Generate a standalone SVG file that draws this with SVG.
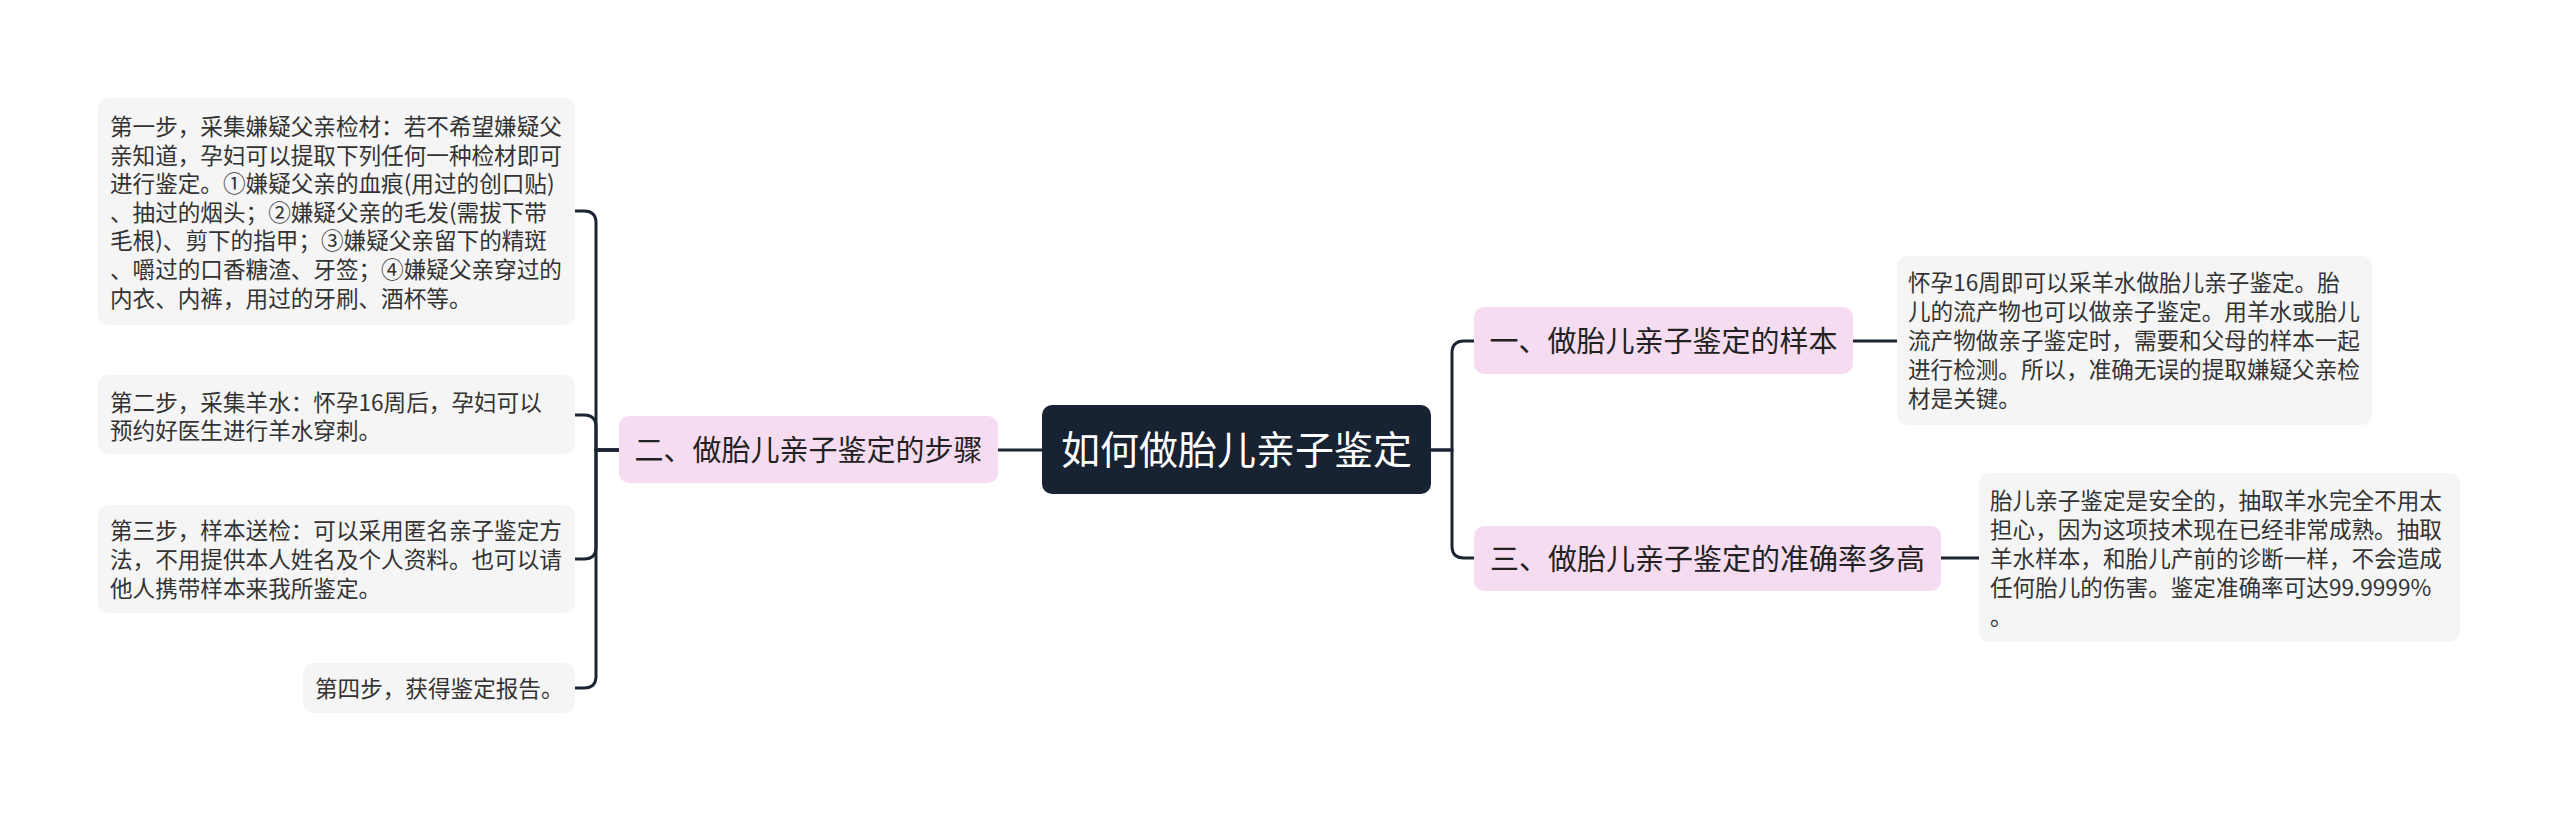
<svg xmlns="http://www.w3.org/2000/svg" width="2560" height="813" viewBox="0 0 2560 813">
<style>
.bg{fill:#ffffff}
.conn{fill:none;stroke:#1b2433;stroke-width:3;stroke-linecap:round}
.root{fill:#172233}
.topic{fill:#f6dcf0}
.note{fill:#f5f5f5}
.rt{font-family:"Noto Sans CJK SC","Noto Sans",sans-serif;font-size:39px;fill:#ffffff}
.tt{font-family:"Noto Sans CJK SC","Noto Sans",sans-serif;font-size:29px;fill:#222222}
.nt{font-family:"Noto Sans CJK SC","Noto Sans",sans-serif;font-size:22.6px;fill:#333333}
</style>
<rect class="bg" x="0" y="0" width="2560" height="813"/>
<g id="connectors">
<path class="conn" d="M619 450 H596 V223 Q596 211 584 211 H575"/>
<path class="conn" d="M619 450 H596 V427 Q596 415 584 415 H575"/>
<path class="conn" d="M619 450 H596 V547 Q596 559 584 559 H575"/>
<path class="conn" d="M619 450 H596 V676 Q596 688 584 688 H575"/>
<path class="conn" d="M998 450 H1042"/>
<path class="conn" d="M1431 450 H1452 V353 Q1452 341 1464 341 H1474"/>
<path class="conn" d="M1431 450 H1452 V546 Q1452 558 1464 558 H1474"/>
<path class="conn" d="M1853 341 H1897"/>
<path class="conn" d="M1941 558 H1979"/>
</g>
<g id="root">
<rect class="root" x="1042" y="405" width="389" height="89" rx="10"/>
<text class="rt" x="1236.5" y="464" text-anchor="middle">如何做胎儿亲子鉴定</text>
</g>
<g id="topic-steps">
<rect class="topic" x="619" y="416" width="379" height="67" rx="10"/>
<text class="tt" x="808.5" y="461" text-anchor="middle">二、做胎儿亲子鉴定的步骤</text>
</g>
<g id="topic-sample">
<rect class="topic" x="1474" y="307" width="379" height="67" rx="10"/>
<text class="tt" x="1663.5" y="352" text-anchor="middle">一、做胎儿亲子鉴定的样本</text>
</g>
<g id="topic-accuracy">
<rect class="topic" x="1474" y="526" width="467" height="65" rx="10"/>
<text class="tt" x="1707.5" y="570" text-anchor="middle">三、做胎儿亲子鉴定的准确率多高</text>
</g>
<g id="step1">
<rect class="note" x="98" y="98" width="477" height="227" rx="10"/>
<text class="nt" x="110" y="135">第一步，采集嫌疑父亲检材：若不希望嫌疑父</text>
<text class="nt" x="110" y="164">亲知道，孕妇可以提取下列任何一种检材即可</text>
<text class="nt" x="110" y="192">进行鉴定。①嫌疑父亲的血痕(用过的创口贴)</text>
<text class="nt" x="110" y="221">、抽过的烟头；②嫌疑父亲的毛发(需拔下带</text>
<text class="nt" x="110" y="249">毛根)、剪下的指甲；③嫌疑父亲留下的精斑</text>
<text class="nt" x="110" y="278">、嚼过的口香糖渣、牙签；④嫌疑父亲穿过的</text>
<text class="nt" x="110" y="307">内衣、内裤，用过的牙刷、酒杯等。</text>
</g>
<g id="step2">
<rect class="note" x="98" y="375" width="477" height="79" rx="10"/>
<text class="nt" x="110" y="411">第二步，采集羊水：怀孕16周后，孕妇可以</text>
<text class="nt" x="110" y="439">预约好医生进行羊水穿刺。</text>
</g>
<g id="step3">
<rect class="note" x="98" y="505" width="477" height="108" rx="10"/>
<text class="nt" x="110" y="539">第三步，样本送检：可以采用匿名亲子鉴定方</text>
<text class="nt" x="110" y="568">法，不用提供本人姓名及个人资料。也可以请</text>
<text class="nt" x="110" y="597">他人携带样本来我所鉴定。</text>
</g>
<g id="step4">
<rect class="note" x="303" y="663" width="272" height="50" rx="10"/>
<text class="nt" x="315" y="697">第四步，获得鉴定报告。</text>
</g>
<g id="note-sample">
<rect class="note" x="1897" y="256" width="475" height="169" rx="10"/>
<text class="nt" x="1908" y="291">怀孕16周即可以采羊水做胎儿亲子鉴定。胎</text>
<text class="nt" x="1908" y="320">儿的流产物也可以做亲子鉴定。用羊水或胎儿</text>
<text class="nt" x="1908" y="349">流产物做亲子鉴定时，需要和父母的样本一起</text>
<text class="nt" x="1908" y="378">进行检测。所以，准确无误的提取嫌疑父亲检</text>
<text class="nt" x="1908" y="407">材是关键。</text>
</g>
<g id="note-accuracy">
<rect class="note" x="1979" y="473" width="481" height="169" rx="10"/>
<text class="nt" x="1990" y="509">胎儿亲子鉴定是安全的，抽取羊水完全不用太</text>
<text class="nt" x="1990" y="538">担心，因为这项技术现在已经非常成熟。抽取</text>
<text class="nt" x="1990" y="567">羊水样本，和胎儿产前的诊断一样，不会造成</text>
<text class="nt" x="1990" y="596">任何胎儿的伤害。鉴定准确率可达99.9999%</text>
<text class="nt" x="1990" y="625">。</text>
</g>
</svg>
